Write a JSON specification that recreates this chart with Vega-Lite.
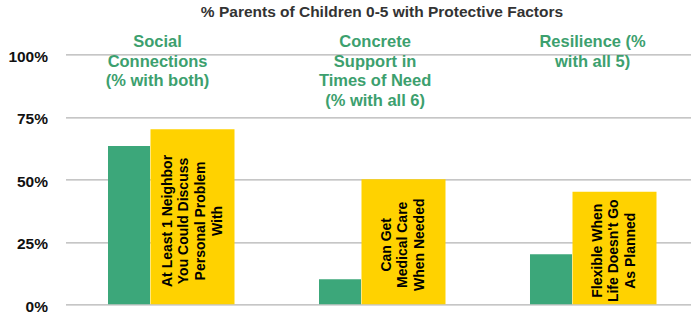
{
  "$schema": "https://vega.github.io/schema/vega-lite/v6.json",
  "autosize": "none",
  "width": 633,
  "height": 250,
  "padding": {"left": 65.5, "top": 54.3, "right": 0, "bottom": 9},
  "background": "white",
  "config": {
    "view": {"stroke": null},
    "font": "Liberation Sans"
  },
  "title": {
    "text": "% Parents of Children 0-5 with Protective Factors",
    "font": "Liberation Sans",
    "fontSize": 15.5,
    "fontWeight": "bold",
    "color": "#333333",
    "anchor": "middle",
    "offset": 14
  },
  "datasets": {
    "bars": [
      {"group": "Social", "measure": "Summary", "value": 0.633, "label": []},
      {"group": "Social", "measure": "Item", "value": 0.70, "label": ["At Least 1 Neighbor", "You Could Discuss", "Personal Problem", "With"]},
      {"group": "Concrete", "measure": "Summary", "value": 0.10, "label": []},
      {"group": "Concrete", "measure": "Item", "value": 0.50, "label": ["Can Get", "Medical Care", "When Needed"]},
      {"group": "Resilience", "measure": "Summary", "value": 0.20, "label": []},
      {"group": "Resilience", "measure": "Item", "value": 0.45, "label": ["Flexible When", "Life Doesn't Go", "As Planned"]}
    ],
    "groups": [
      {"group": "Social", "title": ["Social", "Connections", "(% with both)"]},
      {"group": "Concrete", "title": ["Concrete", "Support in", "Times of Need", "(% with all 6)"]},
      {"group": "Resilience", "title": ["Resilience (%", "with all 5)"]}
    ]
  },
  "resolve": {"scale": {"x": "independent", "y": "independent"}},
  "layer": [
    {
      "layer": [
        {
          "data": {"name": "bars"},
          "transform": [{"filter": "datum.measure === 'Summary'"}],
          "mark": {"type": "bar", "width": 42, "xOffset": -42, "color": "#3ca77a"},
          "encoding": {
            "x": {"field": "group", "type": "nominal", "scale": {"domain": ["Social", "Concrete", "Resilience"], "paddingInner": 0, "paddingOuter": 0}, "axis": null},
            "y": {
              "field": "value", "type": "quantitative",
              "scale": {"domain": [0, 1]},
              "axis": {
                "values": [0, 0.25, 0.5, 0.75, 1],
                "format": ".0%",
                "title": null,
                "domain": false,
                "ticks": false,
                "tickSize": 0,
                "labelPadding": 18,
                "labelFont": "Liberation Sans",
                "labelFontSize": 15.5,
                "labelFontWeight": "bold",
                "labelColor": "#111111",
                "labelOffset": 2,
                "gridColor": "#b3b3b3",
                "gridWidth": 1.3
              }
            }
          }
        },
        {
          "data": {"name": "bars"},
          "transform": [{"filter": "datum.measure === 'Item'"}],
          "mark": {"type": "bar", "width": 84, "xOffset": 21.5, "color": "#ffd200"},
          "encoding": {
            "x": {"field": "group", "type": "nominal"},
            "y": {"field": "value", "type": "quantitative"}
          }
        }
      ]
    },
    {
      "data": {"name": "groups"},
      "mark": {"type": "text", "font": "Liberation Sans", "fontSize": 16.5, "fontWeight": "bold", "color": "#3ca06e", "align": "center", "baseline": "top", "lineHeight": 19.5},
      "encoding": {
        "x": {"field": "group", "type": "nominal", "scale": {"type": "point", "domain": ["Social", "Concrete", "Resilience"], "padding": 0.455, "align": 0.465}, "axis": null},
        "y": {"datum": 1.08, "type": "quantitative", "scale": {"domain": [0, 1]}, "axis": null},
        "text": {"field": "title"}
      }
    },
    {
      "data": {"name": "bars"},
      "transform": [{"filter": "datum.measure === 'Item' && length(datum.label) === 4"}],
      "mark": {"type": "text", "angle": 270, "font": "Liberation Sans", "fontSize": 14, "fontWeight": "bold", "color": "#000000", "align": "center", "baseline": "middle", "lineHeight": 16.7, "xOffset": 21.5, "dy": -25},
      "encoding": {
        "x": {"field": "group", "type": "nominal", "scale": {"domain": ["Social", "Concrete", "Resilience"], "paddingInner": 0, "paddingOuter": 0}, "axis": null},
        "y": {"field": "value", "type": "quantitative", "scale": {"domain": [0, 2.1]}, "axis": null},
        "text": {"field": "label"}
      }
    },
    {
      "data": {"name": "bars"},
      "transform": [{"filter": "datum.measure === 'Item' && length(datum.label) === 3"}],
      "mark": {"type": "text", "angle": 270, "font": "Liberation Sans", "fontSize": 14, "fontWeight": "bold", "color": "#000000", "align": "center", "baseline": "middle", "lineHeight": 16.7, "xOffset": 21.5, "dy": -16.7},
      "encoding": {
        "x": {"field": "group", "type": "nominal", "scale": {"domain": ["Social", "Concrete", "Resilience"], "paddingInner": 0, "paddingOuter": 0}, "axis": null},
        "y": {"field": "value", "type": "quantitative", "scale": {"domain": [0, 2.1]}, "axis": null},
        "text": {"field": "label"}
      }
    }
  ]
}
